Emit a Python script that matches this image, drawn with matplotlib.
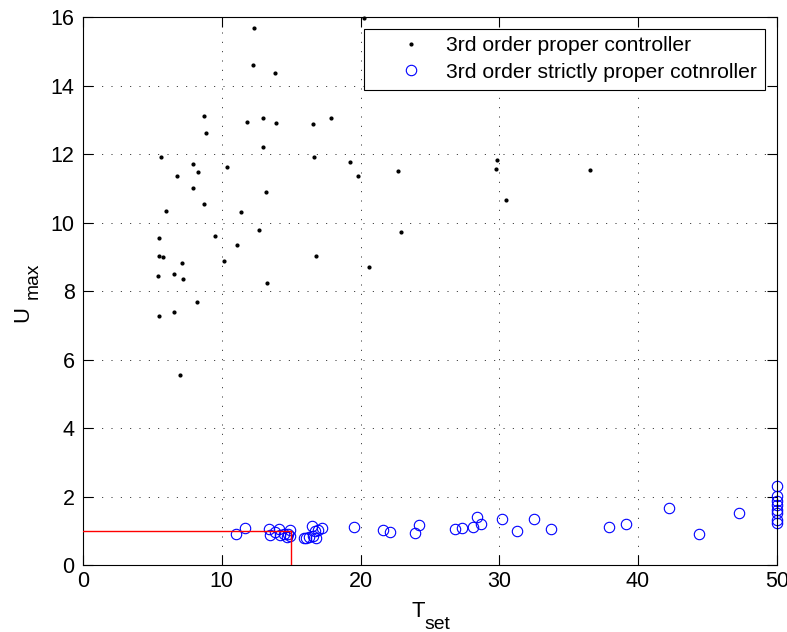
import matplotlib
matplotlib.use('Agg')
import matplotlib.pyplot as plt

plt.rcParams['font.family'] = ['Liberation Sans', 'DejaVu Sans']

# settling time / peak control effort, 3rd order proper controllers
proper_T = [20.27, 12.32, 12.22, 13.83, 8.72, 8.89, 11.82, 12.99, 13.88, 16.57,
            17.87, 12.99, 16.64, 5.62, 19.21, 19.84, 22.67, 7.90, 8.29, 6.77,
            7.90, 10.35, 13.16, 8.74, 5.98, 11.38, 9.49, 12.68, 5.50, 11.12,
            5.48, 5.76, 16.76, 20.63, 7.11, 10.14, 5.43, 6.53, 7.18, 13.26,
            8.24, 5.48, 6.58, 6.99, 29.83, 29.73, 30.45, 36.53, 22.91]
proper_U = [15.96, 15.69, 14.59, 14.37, 13.12, 12.61, 12.95, 13.06, 12.90, 12.88,
            13.05, 12.20, 11.92, 11.91, 11.77, 11.35, 11.51, 11.72, 11.48, 11.35,
            11.02, 11.62, 10.90, 10.53, 10.33, 10.30, 9.62, 9.79, 9.55, 9.34,
            9.03, 9.00, 9.02, 8.71, 8.81, 8.88, 8.45, 8.50, 8.36, 8.23,
            7.68, 7.27, 7.38, 5.56, 11.82, 11.56, 10.67, 11.54, 9.71]

# 3rd order strictly proper controllers
strict_T = [11.0, 11.7, 13.4, 13.5, 13.8, 14.1, 14.2, 14.5, 14.7, 14.9,
            14.8, 14.9, 15.9, 16.1, 16.3, 16.5, 16.6, 16.8, 16.9, 17.2,
            16.7, 19.5, 21.6, 22.1, 23.9, 24.2, 26.8, 27.3, 28.1, 28.4,
            28.7, 30.2, 31.3, 32.5, 33.7, 37.9, 39.1, 42.2, 44.4, 47.3,
            50, 50, 50, 50, 50, 50, 50, 50]
strict_U = [0.91, 1.09, 1.05, 0.88, 0.95, 1.05, 0.88, 0.90, 0.82, 1.02,
            0.92, 0.86, 0.80, 0.78, 0.82, 1.15, 0.85, 0.80, 1.02, 1.08,
            1.00, 1.12, 1.01, 0.95, 0.93, 1.16, 1.04, 1.07, 1.12, 1.40,
            1.19, 1.33, 0.99, 1.34, 1.04, 1.12, 1.19, 1.66, 0.91, 1.53,
            2.32, 2.02, 1.88, 1.75, 1.62, 1.52, 1.30, 1.24]

# design spec: T_set <= 15, U_max <= 1
T_spec = 15
U_spec = 1

fig = plt.figure(figsize=(7.87, 6.32), dpi=100)
ax = fig.add_axes([0.1055, 0.106, 0.8815, 0.867])

ax.plot([0, T_spec], [U_spec, U_spec], color='red', lw=1.0, zorder=3)
ax.plot([T_spec, T_spec], [0, U_spec], color='red', lw=1.0, zorder=3)

ax.plot(proper_T, proper_U, '.', color='black', markersize=4, clip_on=False,
        label='3rd order proper controller')
ax.plot(strict_T, strict_U, 'o', mfc='none', mec='blue', markersize=7.5,
        mew=0.8, clip_on=False, label='3rd order strictly proper cotnroller')

ax.set_xlim(0, 50)
ax.set_ylim(0, 16)
ax.set_xticks(range(0, 51, 10))
ax.set_yticks(range(0, 17, 2))
ax.grid(True, color='black', lw=0.6, dashes=(1.2, 10))
ax.tick_params(direction='in', length=7, width=0.8, top=True, right=True,
               labelsize=15.5)
ax.tick_params(axis='x', pad=4.5)
ax.tick_params(axis='y', pad=6)
for s in ax.spines.values():
    s.set_linewidth(0.8)

# axis labels with large subscripts
ax.annotate('T', xy=(0.5, 0), xycoords='axes fraction', xytext=(-5, -52),
            textcoords='offset pixels', ha='right', va='baseline', fontsize=15.8)
ax.annotate('set', xy=(0.5, 0), xycoords='axes fraction', xytext=(-5, -63.5),
            textcoords='offset pixels', ha='left', va='baseline', fontsize=13.9)
ax.annotate('U', xy=(0, 0.5), xycoords='axes fraction', xytext=(-55, -31),
            textcoords='offset pixels', ha='left', va='baseline', fontsize=15.8,
            rotation=90, rotation_mode='anchor')
ax.annotate('max', xy=(0, 0.5), xycoords='axes fraction', xytext=(-45, -8),
            textcoords='offset pixels', ha='left', va='baseline', fontsize=13.9,
            rotation=90, rotation_mode='anchor')

leg = ax.legend(loc='upper right', fontsize=15.2, fancybox=False, framealpha=1,
                edgecolor='black', borderaxespad=0.55, handletextpad=-0.2,
                borderpad=0.37, labelspacing=0.35, handlelength=3.75)
leg.get_frame().set_linewidth(0.8)

fig.savefig('out.png', dpi=100)
